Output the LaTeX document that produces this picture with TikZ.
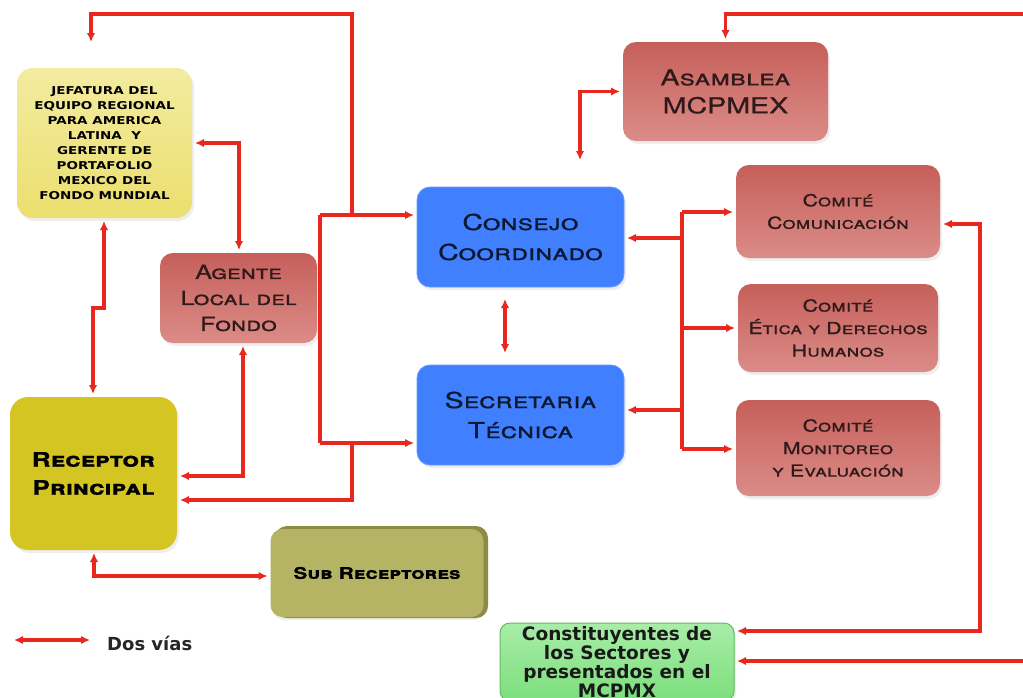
\documentclass[tikz,border=0pt]{standalone}
\usepackage{fontspec}
\usetikzlibrary{arrows.meta,shadows}
\newfontfamily\cpf[FakeStretch=1.3,FakeBold=0.6]{TeX Gyre Heros}
\newfontfamily\dvs{DejaVu Sans}
\newfontfamily\dvsw[FakeStretch=1.25]{DejaVu Sans}
\definecolor{lred}{HTML}{E8281E}
\definecolor{rtop}{HTML}{C65F5A}
\definecolor{rbot}{HTML}{DB8C88}
\definecolor{rtxt}{HTML}{2E1A1A}
\definecolor{bfill}{HTML}{4080FF}
\definecolor{btxt}{HTML}{0C1730}
\definecolor{ytop}{HTML}{F3EBA0}
\definecolor{ybot}{HTML}{EBDF6E}
\definecolor{rcp}{HTML}{D4C523}
\definecolor{olv}{HTML}{B4B464}
\definecolor{olvd}{HTML}{8C8C45}
\definecolor{gtop}{HTML}{A8EDA8}
\definecolor{gbot}{HTML}{7CDE7C}
\definecolor{gdraw}{HTML}{5EBE5E}
\tikzset{
  con/.style={draw=lred, line width=3.1pt},
  one/.style={con, -{Latex[length=9pt,width=8.5pt]}},
  both/.style={con, {Latex[length=9pt,width=8.5pt]}-{Latex[length=9pt,width=8.5pt]}},
  box/.style={rounded corners=13pt, align=center, inner sep=0pt, outer sep=3pt,
    drop shadow={opacity=0.13, shadow xshift=2pt, shadow yshift=-3pt}},
  redbox/.style={box, top color=rtop, bottom color=rbot, text=rtxt,
    font=\cpf\scshape\fontsize{16.5}{22.5}\selectfont},
  bluebox/.style={box, fill=bfill, draw=bfill!80!white, line width=0.8pt, text=btxt,
    font=\cpf\scshape\fontsize{22}{30}\selectfont},
  jefbox/.style={box, rounded corners=16pt, top color=ytop, bottom color=ybot, text=black,
    font=\dvsw\bfseries\fontsize{10.8}{15}\selectfont},
  rcpbox/.style={box, rounded corners=18pt, fill=rcp, text=black,
    font=\cpf\bfseries\scshape\fontsize{20}{28}\selectfont},
  subbox/.style={box, rounded corners=12pt, fill=olv, text=black,
    font=\cpf\bfseries\scshape\fontsize{16}{20}\selectfont},
  grnbox/.style={box, rounded corners=10pt, top color=gtop, bottom color=gbot, draw=gdraw,
    line width=1pt, text=black!90, font=\dvs\bfseries\fontsize{18.5}{19}\selectfont},
  legtext/.style={font=\dvs\bfseries\fontsize{18}{20}\selectfont, text=black!85, inner sep=0pt},
}
\begin{document}
\begin{tikzpicture}[x=1pt,y=-1pt]
\useasboundingbox (0,0) rectangle (1023,697);
\clip (0,0) rectangle (1023,697);
\fill[white] (0,0) rectangle (1023,697);

% nodes
\node[jefbox, minimum width=175, minimum height=150] (jef) at (104.5,143)
  {JEFATURA DEL\\EQUIPO REGIONAL\\PARA AMERICA\\LATINA\ \ Y\\GERENTE DE\\PORTAFOLIO\\MEXICO DEL\\FONDO MUNDIAL};
\node[redbox, minimum width=157, minimum height=90, font=\cpf\scshape\fontsize{19.5}{26}\selectfont] (agente) at (238.5,298)
  {Agente\\Local del\\Fondo};
\node[rcpbox, minimum width=167, minimum height=153] (receptor) at (93.5,473.5)
  {Receptor\\Principal};
\fill[olvd, rounded corners=12pt] (275,526) rectangle (488,618);
\node[subbox, minimum width=213, minimum height=88] (sub) at (377,573)
  {Sub Receptores};
\node[bluebox, minimum width=207, minimum height=100] (consejo) at (520.5,237)
  {Consejo\\Coordinado};
\node[bluebox, minimum width=207, minimum height=100] (secretaria) at (520.5,415)
  {Secretaria\\Técnica};
\node[redbox, minimum width=205, minimum height=99, font=\cpf\scshape\fontsize{22}{28}\selectfont] (asamblea) at (725.5,91.5)
  {Asamblea\\MCPMEX};
\node[redbox, minimum width=204, minimum height=93] (comcom) at (838,211.5)
  {Comité\\Comunicación};
\node[redbox, minimum width=200, minimum height=88] (etica) at (838,328)
  {Comité\\Ética y Derechos\\Humanos};
\node[redbox, minimum width=204, minimum height=96] (monit) at (838,448)
  {Comité\\Monitoreo\\y Evaluación};
\node[grnbox, minimum width=234, minimum height=78, anchor=north] (const) at (617,620)
  {Constituyentes de\\los Sectores y\\presentados en el\\MCPMX};

% left network
\coordinate (ja) at (352,215);
\coordinate (jb) at (320,215);
\coordinate (jc) at (320,443);
\coordinate (jd) at (352,443);
\draw[one, shorten >=23pt] (ja) |- (91,14) -- (jef.north -| 91,0);
\draw[one] (jb) -- (consejo.west |- 0,215);
\draw[con] (jb) -- (jc);
\draw[one] (jc) -- (secretaria.west |- 0,443);
\draw[one] (jd) -- (352,500) -- (receptor.east |- 0,500);
\draw[both] (jef.east) -| (agente.north -| 239,0);
\draw[both] (jef.south -| 104,0) -- (104,308) -| (receptor.north -| 93,0);
\draw[both] (agente.south -| 243,0) |- (receptor.east |- 0,476);
\draw[both] (receptor.south -| 94,0) |- (sub.west |- 0,576);

% right network
\draw[both, shorten >=24pt] (asamblea.west) -| (consejo.north -| 580,0);
\draw[one] (1023,14) -| (asamblea.north);
\draw[both, shorten <=9pt, shorten >=9pt] (consejo.south -| 505,0) -- (secretaria.north -| 505,0);
\coordinate (bt) at (682,212);
\coordinate (bb) at (682,449);
\draw[con] (bt) -- (bb);
\draw[one, line width=4pt] (682,238) -- (consejo.east |- 0,238);
\draw[one] (682,410) -- (secretaria.east |- 0,410);
\draw[one] (bt) -- (comcom.west |- 0,212);
\draw[one] (682,328) -- (etica.west);
\draw[one] (bb) -- (monit.west |- 0,449);
\draw[both] (comcom.east |- 0,224) -| (980,631) -- (const.east |- 0,631);
\draw[one] (1023,661) -- (const.east |- 0,661);

% legend
\coordinate (la) at (14,640);
\coordinate (lb) at (90,640);
\draw[both] (la) -- (lb);
\node[legtext, anchor=west] (leg) at (107,643) {Dos vías};
\end{tikzpicture}
\end{document}
